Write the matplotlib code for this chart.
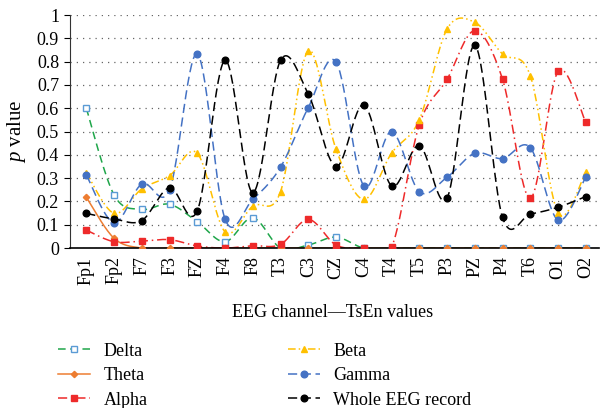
import numpy as np
import matplotlib.pyplot as plt
from matplotlib.lines import Line2D

plt.rcParams["font.family"] = ["Liberation Serif", "DejaVu Serif"]
plt.rcParams["mathtext.fontset"] = "custom"
plt.rcParams["mathtext.it"] = "Liberation Serif:italic"
plt.rcParams["mathtext.rm"] = "Liberation Serif"

channels = ["Fp1", "Fp2", "F7", "F3", "FZ", "F4", "F8", "T3", "C3", "CZ",
            "C4", "T4", "T5", "P3", "PZ", "P4", "T6", "O1", "O2"]

delta = [0.60, 0.228, 0.166, 0.188, 0.113, 0.027, 0.13, 0.0, 0.013, 0.047,
         0.0, 0.0, 0.0, 0.0, 0.0, 0.0, 0.0, 0.0, 0.0]
theta = [0.218, 0.042, 0.0, 0.0, 0.0, 0.0, 0.0, 0.0, 0.0, 0.0,
         0.0, 0.0, 0.0, 0.0, 0.0, 0.0, 0.0, 0.0, 0.0]
alpha = [0.077, 0.027, 0.03, 0.036, 0.009, 0.0, 0.01, 0.016, 0.123, 0.013,
         0.0, 0.003, 0.529, 0.724, 0.933, 0.725, 0.214, 0.758, 0.539]
beta = [0.324, 0.149, 0.254, 0.311, 0.407, 0.07, 0.18, 0.242, 0.847, 0.424,
        0.209, 0.407, 0.55, 0.94, 0.969, 0.833, 0.74, 0.152, 0.326]
gamma = [0.314, 0.109, 0.275, 0.25, 0.833, 0.125, 0.209, 0.347, 0.603, 0.799,
         0.267, 0.5, 0.242, 0.304, 0.407, 0.384, 0.431, 0.12, 0.304]
whole = [0.149, 0.125, 0.118, 0.259, 0.16, 0.806, 0.238, 0.806, 0.661, 0.35,
         0.615, 0.267, 0.44, 0.214, 0.87, 0.132, 0.146, 0.175, 0.221]


def smooth(y, n=30):
    """Excel-style smoothed line (cubic Bezier, Catmull-Rom control points)."""
    y = np.asarray(y, float)
    x = np.arange(len(y), dtype=float)
    px = np.concatenate([[x[0]], x, [x[-1]]])
    py = np.concatenate([[y[0]], y, [y[-1]]])
    t = np.linspace(0, 1, n)
    xs, ys = [], []
    for i in range(len(y) - 1):
        p0 = np.array([px[i], py[i]])
        p1 = np.array([px[i + 1], py[i + 1]])
        p2 = np.array([px[i + 2], py[i + 2]])
        p3 = np.array([px[i + 3], py[i + 3]])
        c1 = p1 + (p2 - p0) / 6
        c2 = p2 - (p3 - p1) / 6
        b = ((1 - t) ** 3)[:, None] * p1 + (3 * (1 - t) ** 2 * t)[:, None] * c1 \
            + (3 * (1 - t) * t ** 2)[:, None] * c2 + (t ** 3)[:, None] * p2
        xs.append(b[:, 0])
        ys.append(b[:, 1])
    return np.concatenate(xs), np.concatenate(ys)


# label, values, line colour, dashes, marker, marker face, marker edge, size
series = [
    ("Delta", delta, "#1fa64a", (0, (5, 3)), "s", "white", "#5b9bd5", 4.2),
    ("Theta", theta, "#ed7d31", "-", "D", "#ed7d31", "#ed7d31", 3.2),
    ("Alpha", alpha, "#ee2a2a", (0, (6, 2.5, 1, 2.5)), "s", "#ee2a2a", "#ee2a2a", 5),
    ("Beta", beta, "#ffc000", (0, (5, 2, 1, 2, 1, 2)), "^", "#ffc000", "#ffc000", 5),
    ("Gamma", gamma, "#4472c4", (0, (6, 3)), "o", "#4472c4", "#4472c4", 4.8),
    ("Whole EEG record", whole, "black", (0, (6, 3)), "o", "black", "black", 4.8),
]

fig = plt.figure(figsize=(6, 4.08), dpi=100)
ax = fig.add_axes([0.117, 0.392, 0.881, 0.571])

x = np.arange(len(channels))
handles = []
for label, vals, col, ls, mk, mfc, mec, ms in series:
    sx, sy = smooth(vals)
    ax.plot(sx, sy, color=col, ls=ls, lw=1.1, zorder=2)
    ax.plot(x, vals, ls="none", marker=mk, ms=ms, mfc=mfc, mec=mec,
            mew=1.0, zorder=3)
    handles.append(Line2D([], [], color=col, ls=ls, lw=1.1, marker=mk, ms=ms,
                          mfc=mfc, mec=mec, mew=1.0))

ax.set_xlim(-0.58, 18.47)
ax.set_ylim(0, 1)
ax.set_yticks(np.round(np.arange(0, 1.01, 0.1), 1))
ax.set_yticklabels(["0"] + [f"{v:.1f}" for v in np.arange(0.1, 0.95, 0.1)] + ["1"])
ax.set_xticks(x)
ax.set_xticklabels(channels, rotation=90)
ax.tick_params(axis="x", length=0, pad=6, labelsize=13)
ax.tick_params(axis="y", length=4, width=0.8, labelsize=13, pad=4)
ax.yaxis.grid(True, color="#666666", ls=(0, (1, 4)), lw=0.9)
ax.set_axisbelow(True)
for s in ("top", "right"):
    ax.spines[s].set_visible(False)
ax.spines["left"].set_color("#333333")
ax.spines["bottom"].set_color("black")
ax.spines["bottom"].set_linewidth(1.2)

ax.set_ylabel("$p$ value", fontsize=15, labelpad=6)
fig.text(0.555, 0.235, "EEG channel\u2014TsEn values", fontsize=13,
         ha="center", va="center")

fig.legend(handles, [s[0] for s in series], ncol=2, frameon=False,
           loc="upper left", bbox_to_anchor=(0.085, 0.178), fontsize=13,
           handlelength=1.75, columnspacing=7.8, labelspacing=0.42,
           handletextpad=0.75, borderaxespad=0)

fig.savefig("out.png", dpi=100)
